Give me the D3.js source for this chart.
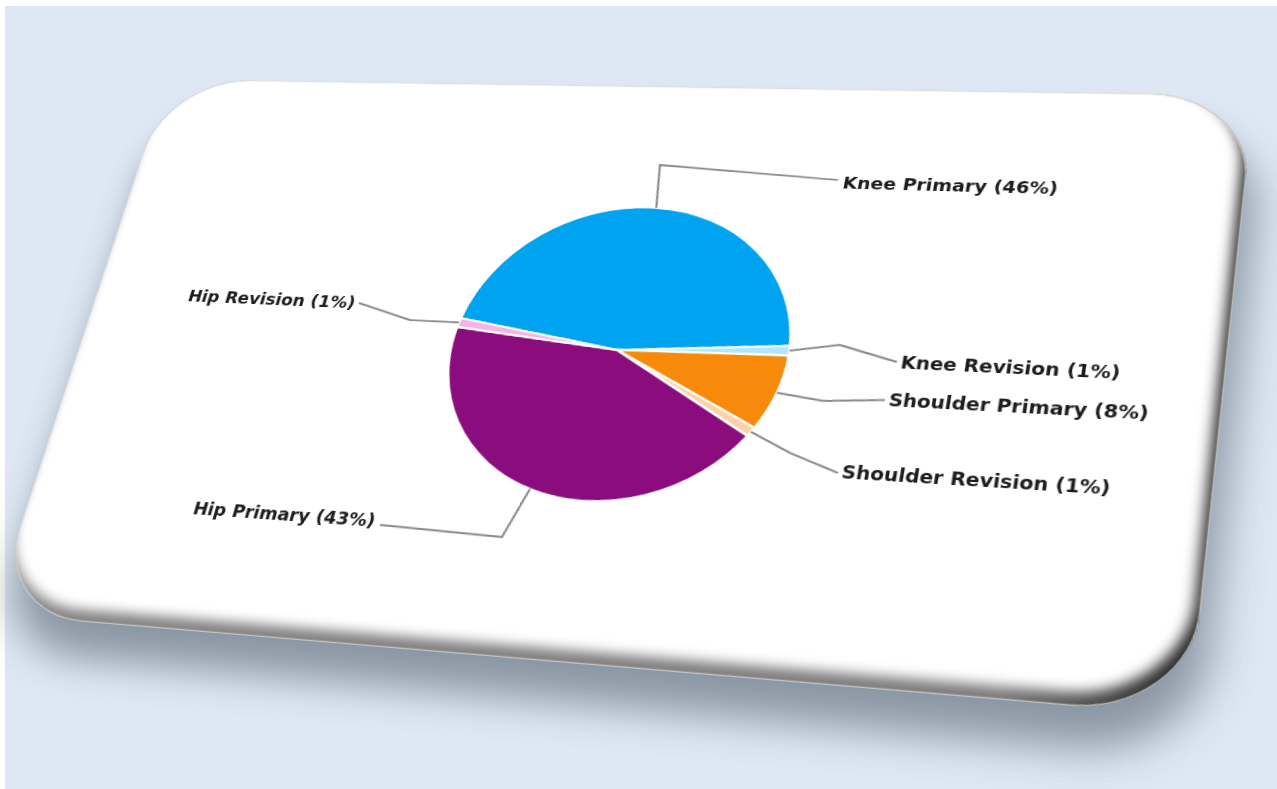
<!DOCTYPE html>
<html><head><meta charset="utf-8">
<script src="https://cdn.jsdelivr.net/npm/d3@7"></script>
<style>
html,body{margin:0;padding:0;background:#fff;overflow:hidden;width:1277px;height:789px}
#bg{position:absolute;left:0;top:0}
#card{position:absolute;left:0;top:0;transform-origin:0 0;overflow:visible}
</style></head><body>
<svg id="bg" width="1277" height="789"></svg>
<svg id="card"></svg>
<script>
// ---- data ----
const categories = ["Knee Primary","Knee Revision","Shoulder Primary","Shoulder Revision","Hip Primary","Hip Revision"];
const values = [46, 1, 8, 1, 43, 1];
const colors = ["#00a3ef","#aee8fa","#f7890b","#fdd0a8","#8b0d7d","#f6b3e4"];

// ---- layout (screen space) ----
const W = 1040, H = 600, CR = 90;
const quad = [[167,79],[1255,95],[1190,716],[-9,614]];
const pieCenterScreen = [617,350];
const R = 154;
const rot = -0.08;
const labelLayout = [
  {elbow:[[660,165],[838,180]], text:[843,183], anchor:"start"},
  {elbow:[[840,345],[897,362]], text:[901,362], anchor:"start"},
  {elbow:[[823,401],[885,400]], text:[889,400], anchor:"start"},
  {elbow:[[790,453],[838,473]], text:[842,472], anchor:"start"},
  {elbow:[[502,537],[380,525]], text:[375,521], anchor:"end"},
  {elbow:[[410,320],[359,303]], text:[355,303], anchor:"end"}
];

function solve(A,B){
  const n=B.length; const M=A.map((r,i)=>r.concat([B[i]]));
  for(let c=0;c<n;c++){
    let p=c; for(let r=c+1;r<n;r++) if(Math.abs(M[r][c])>Math.abs(M[p][c])) p=r;
    [M[c],M[p]]=[M[p],M[c]];
    for(let r=0;r<n;r++){ if(r===c) continue; const f=M[r][c]/M[c][c];
      for(let k=c;k<=n;k++) M[r][k]-=f*M[c][k]; }
  }
  return M.map((r,i)=>r[n]/r[i]);
}
function homography(src,dst){
  const A=[],B=[];
  for(let i=0;i<4;i++){const [x,y]=src[i],[u,v]=dst[i];
    A.push([x,y,1,0,0,0,-x*u,-y*u]);B.push(u);
    A.push([0,0,0,x,y,1,-x*v,-y*v]);B.push(v);}
  return solve(A,B);
}
function apply(h,[x,y]){const w=h[6]*x+h[7]*y+1;return [(h[0]*x+h[1]*y+h[2])/w,(h[3]*x+h[4]*y+h[5])/w];}
const rect=[[0,0],[W,0],[W,H],[0,H]];
const Hf=homography(rect,quad);
const Hi=homography(quad,rect);
const toFlat=p=>apply(Hi,p);

// background
const bg=d3.select("#bg");
bg.append("rect").attr("x",5).attr("y",6).attr("width",1272).attr("height",783).attr("fill","#dde8f4");

// card
const svg=d3.select("#card").attr("width",W+200).attr("height",H+200)
  .style("transform",`matrix3d(${Hf[0]},${Hf[3]},0,${Hf[6]},${Hf[1]},${Hf[4]},0,${Hf[7]},0,0,1,0,${Hf[2]},${Hf[5]},0,1)`);
const defs=svg.append("defs");
defs.append("filter").attr("id","shb").attr("x","-30%").attr("y","-30%").attr("width","160%").attr("height","170%")
  .append("feGaussianBlur").attr("stdDeviation",18);
defs.append("filter").attr("id","bev").attr("x","-10%").attr("y","-10%").attr("width","120%").attr("height","120%")
  .append("feGaussianBlur").attr("stdDeviation",6);
defs.append("filter").attr("id","tx").append("feGaussianBlur").attr("stdDeviation",0.35);
defs.append("clipPath").attr("id","cc").append("rect").attr("width",W).attr("height",H).attr("rx",CR).attr("ry",CR);
const lgd=defs.append("linearGradient").attr("id","bgr").attr("x1",0).attr("x2",1).attr("y1",0).attr("y2",0);
lgd.append("stop").attr("offset","0").attr("stop-color","#858585");
lgd.append("stop").attr("offset","0.86").attr("stop-color","#7a7a7a");
lgd.append("stop").attr("offset","1").attr("stop-color","#222");

svg.append("rect").attr("x",10).attr("y",36).attr("width",W).attr("height",H).attr("rx",CR).attr("ry",CR)
  .attr("fill","#6f7b89").attr("opacity",0.75).attr("filter","url(#shb)");
const cg=svg.append("g").attr("clip-path","url(#cc)");
cg.append("rect").attr("width",W).attr("height",H).attr("fill","url(#bgr)");
cg.append("rect").attr("x",-5).attr("y",-12).attr("width",W).attr("height",H).attr("rx",CR).attr("ry",CR)
  .attr("fill","#fff").attr("filter","url(#bev)");
cg.append("rect").attr("width",W).attr("height",H).attr("rx",CR).attr("ry",CR)
  .attr("fill","none").attr("stroke","#d6d6d6").attr("stroke-width",2.5).attr("stroke-opacity",0.8);

// pie
const c=toFlat(pieCenterScreen);
const g=svg.append("g").attr("transform",`translate(${c[0]},${c[1]})`);
const start=Math.PI/2-2*Math.PI*values[0]/d3.sum(values)+rot;
const pie=d3.pie().sort(null).value(d=>d).startAngle(start).endAngle(start+2*Math.PI);
const arcs=pie(values);
const arc=d3.arc().innerRadius(0).outerRadius(R);
const edge=d3.arc().innerRadius(R).outerRadius(R);
g.selectAll("path.s").data(arcs).join("path").attr("class","s").attr("d",arc)
  .attr("fill",(d,i)=>colors[i]).attr("stroke","#fff").attr("stroke-width",2.2).attr("stroke-linejoin","round");

const line=d3.line();
const lg=svg.append("g");
arcs.forEach((d,i)=>{
  const e=edge.centroid(d); const p0=[e[0]+c[0],e[1]+c[1]];
  const L=labelLayout[i];
  const pts=[p0].concat(L.elbow.map(toFlat));
  lg.append("path").attr("d",line(pts)).attr("fill","none").attr("stroke","#8a8a8a").attr("stroke-width",2);
  const t=toFlat(L.text);
  lg.append("text").attr("x",t[0]).attr("y",t[1]).attr("dy","0.36em").attr("text-anchor",L.anchor)
    .attr("font-family","DejaVu Sans, Verdana, sans-serif").attr("font-weight","bold").attr("font-size",16.8)
    .attr("fill","#1a1a1a").attr("filter","url(#tx)").text(`${categories[i]} (${values[i]}%)`);
});
</script>
</body></html>
